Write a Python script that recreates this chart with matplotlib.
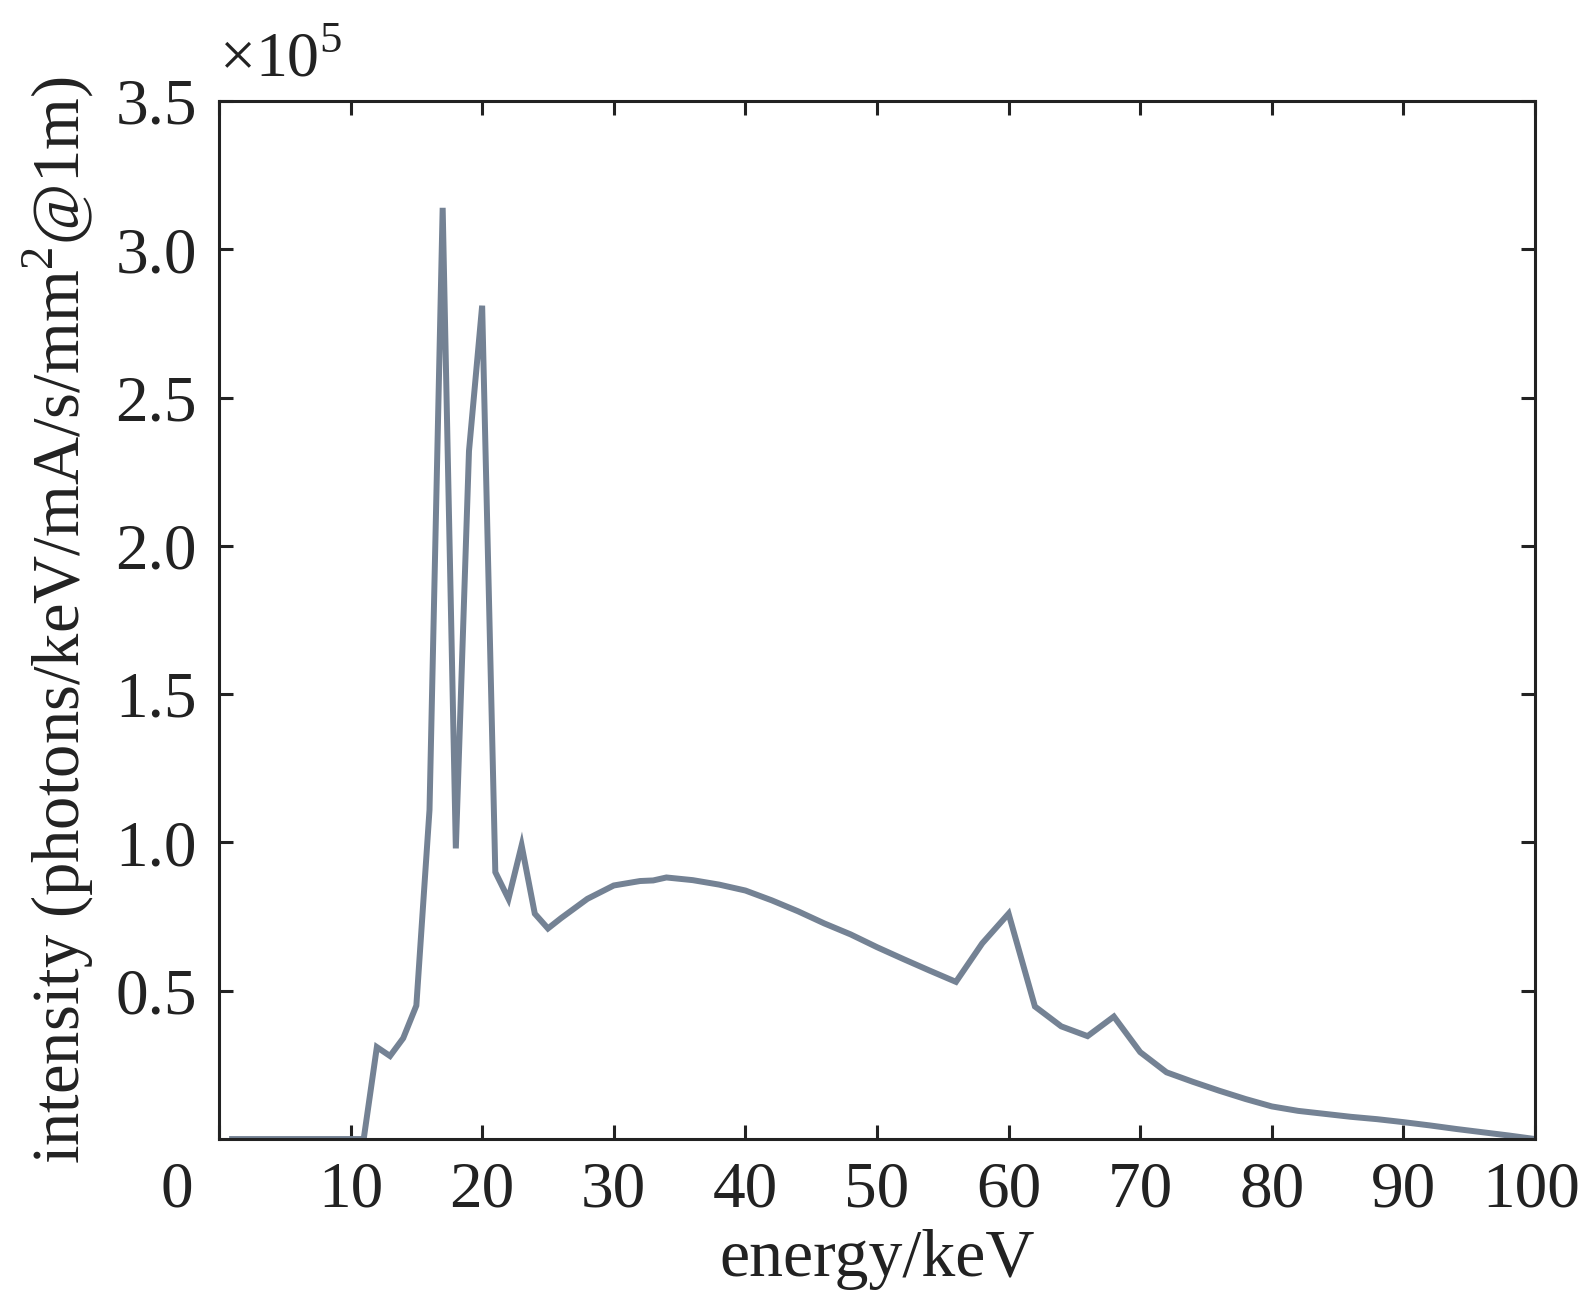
import matplotlib.pyplot as plt
from matplotlib.transforms import ScaledTranslation

plt.rcParams["font.family"] = ["Liberation Serif", "DejaVu Serif"]
plt.rcParams["mathtext.fontset"] = "custom"
plt.rcParams["mathtext.rm"] = "Liberation Serif"

# photon energy (keV) and intensity (x 1e5 photons/keV/mA/s/mm^2 @ 1m)
energy = [1, 11, 12, 13, 14, 15, 16, 17, 18, 19, 20, 21, 22, 23, 24, 25, 26,
          28, 30, 32, 33, 34, 36, 38, 40, 42, 44, 46, 48, 50, 52, 54, 56, 58,
          60, 62, 64, 66, 68, 70, 72, 74, 76, 78, 80, 82, 84, 86, 88, 90, 92,
          94, 96, 98, 100]
intensity = [0.0, 0.0, 0.31, 0.28, 0.34, 0.45, 1.11, 3.14, 0.98, 2.32, 2.81,
             0.90, 0.81, 0.99, 0.76, 0.71, 0.745,
             0.81, 0.855, 0.87, 0.872, 0.882, 0.873, 0.858, 0.838, 0.805,
             0.768, 0.727, 0.69, 0.647, 0.607, 0.568, 0.53, 0.66,
             0.76, 0.447, 0.38, 0.347, 0.413, 0.293, 0.225, 0.193, 0.163,
             0.135, 0.11, 0.095, 0.085, 0.075, 0.067, 0.057, 0.046,
             0.034, 0.023, 0.012, 0.0]

xticks = list(range(0, 101, 10))
yticks = [0.5, 1.0, 1.5, 2.0, 2.5, 3.0, 3.5]

fig = plt.figure(figsize=(15.83, 13.04), dpi=100)
ax = fig.add_axes([0.1383, 0.1265, 0.8314, 0.796])

ax.plot(energy, intensity, color="#748294", lw=4.3, solid_joinstyle="miter")

ax.set_xlim(0, 100)
ax.set_ylim(0, 3.5)
ax.set_xticks(xticks)
ax.set_yticks(yticks)
ax.set_xticklabels([str(t) for t in xticks])
ax.set_yticklabels([f"{t:.1f}" for t in yticks])
ax.tick_params(direction="in", length=10, width=2.2, top=True, right=True,
               labelsize=47, colors="#222222")
ax.tick_params(axis="x", pad=16)
ax.tick_params(axis="y", pad=16)
for s in ax.spines.values():
    s.set_linewidth(2.2)
    s.set_color("#222222")

# the "0" sits at the lower-left corner, shared by both axes
xlabels = ax.get_xticklabels()
xlabels[0].set_transform(xlabels[0].get_transform()
                         + ScaledTranslation(-0.42, 0, fig.dpi_scale_trans))
# keep "100" inside the figure edge
xlabels[-1].set_transform(xlabels[-1].get_transform()
                          + ScaledTranslation(-0.04, 0, fig.dpi_scale_trans))

ax.set_xlabel("energy/keV", fontsize=49, color="#222222", labelpad=6)
ax.set_ylabel("intensity (photons/keV/mA/s/mm$^2$@1m)", fontsize=48,
              color="#222222", labelpad=14)
ax.text(0.0, 1.01, r"$\times$10$^5$", transform=ax.transAxes, fontsize=46,
        color="#222222", ha="left", va="bottom")

fig.savefig("out.png", dpi=100)
